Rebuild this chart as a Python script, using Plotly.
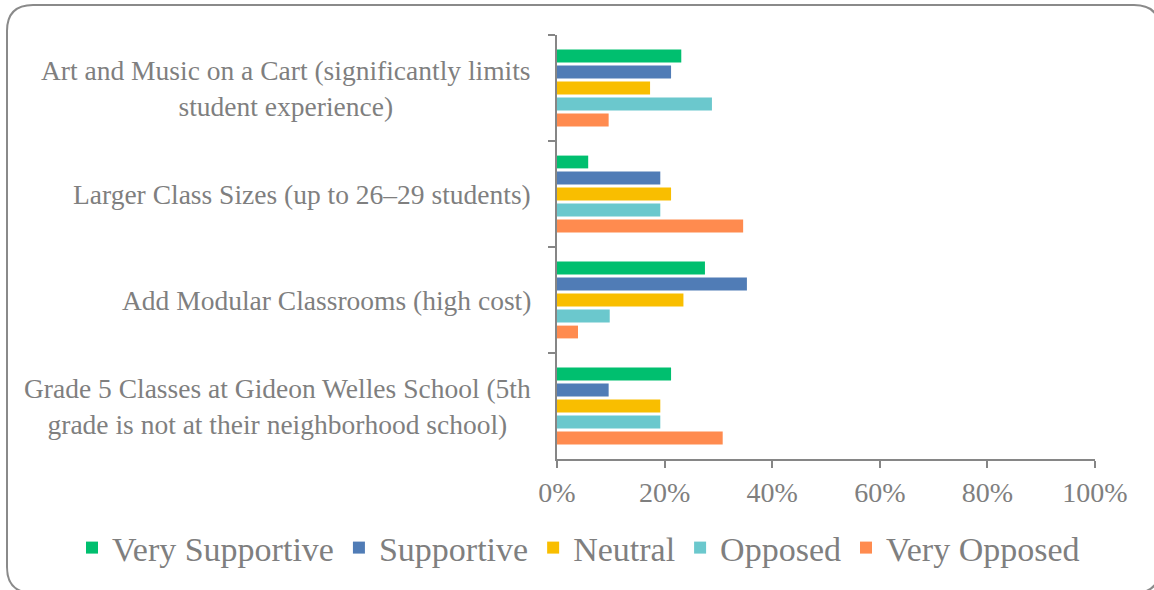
import plotly.graph_objects as go

categories = [
    "Art and Music on a Cart (significantly limits<br>student experience)",
    "Larger Class Sizes (up to 26–29 students)",
    "Add Modular Classrooms (high cost)",
    "Grade 5 Classes at Gideon Welles School (5th<br>grade is not at their neighborhood school)",
]
series_names = ["Very Supportive", "Supportive", "Neutral", "Opposed", "Very Opposed"]
very_supportive = [23.1, 5.8, 27.5, 21.2]
supportive = [21.2, 19.2, 35.3, 9.6]
neutral = [17.3, 21.2, 23.5, 19.2]
opposed = [28.8, 19.2, 9.8, 19.2]
very_opposed = [9.6, 34.6, 3.9, 30.8]
x_ticks = [0, 20, 40, 60, 80, 100]
colors = ["#00BF6F", "#507CB6", "#F9BE00", "#6BC8CD", "#FF8B4F"]

W, H = 1154, 590
L, R, T, B = 557, 59, 35, 131
FONT = "Liberation Serif"
GRAY = "#7f7f7f"
AXIS = "#868686"

fig = go.Figure()
for name, vals, col in zip(series_names,
                           [very_supportive, supportive, neutral, opposed, very_opposed],
                           colors):
    fig.add_trace(go.Bar(y=categories, x=vals, name=name,
                         orientation="h", marker=dict(color=col, line=dict(width=0))))

pw, ph = W - L - R, H - T - B
def px2x(p):
    return (p - L) / pw
def py2y(p):
    return (H - B - p) / ph

# rounded border
x0, x1, y0, y1, r = 7, 1160, 5, 593, 26
rx, ry = r / pw, r / ph
X0, X1, Y0, Y1 = px2x(x0), px2x(x1), py2y(y0), py2y(y1)
path = (f"M {X0+rx},{Y0} L {X1-rx},{Y0} Q {X1},{Y0} {X1},{Y0-ry} "
        f"L {X1},{Y1+ry} Q {X1},{Y1} {X1-rx},{Y1} L {X0+rx},{Y1} "
        f"Q {X0},{Y1} {X0},{Y1+ry} L {X0},{Y0-ry} Q {X0},{Y0} {X0+rx},{Y0} Z")
fig.add_shape(type="path", path=path, xref="paper", yref="paper",
              line=dict(color="#8a8a8a", width=2), layer="below")

for c in categories:
    fig.add_annotation(x=0, y=c, xref="paper", yref="y", text=c, showarrow=False,
                       xanchor="right", align="center", xshift=-24,
                       font=dict(family=FONT, size=27.5, color=GRAY))

fig.update_layout(
    width=W, height=H, margin=dict(l=L, r=R, t=T, b=B, autoexpand=False),
    paper_bgcolor="white", plot_bgcolor="white",
    barmode="group", bargap=0.245, bargroupgap=0.2,
    showlegend=True,
    legend=dict(orientation="h", xref="paper", x=px2x(72), xanchor="left",
                yref="paper", y=py2y(548), yanchor="middle",
                font=dict(family=FONT, size=34, color=GRAY),
                itemwidth=30, traceorder="normal", tracegroupgap=0,
                bgcolor="rgba(0,0,0,0)"),
    xaxis=dict(range=[0, 100], tickvals=x_ticks, ticktext=[f"{v}%" for v in x_ticks],
               showgrid=False, zeroline=False, showline=True, linecolor=AXIS, linewidth=2,
               ticks="outside", ticklen=7, tickwidth=2, tickcolor=AXIS,
               tickfont=dict(family=FONT, size=28, color=GRAY)),
    yaxis=dict(type="category", categoryorder="array", categoryarray=categories,
               range=[len(categories) - 0.5, -0.5], showticklabels=False,
               tickson="boundaries", ticks="outside", ticklen=7, tickwidth=2, tickcolor=AXIS,
               showgrid=False, zeroline=False, showline=True, linecolor=AXIS, linewidth=2),
)
fig.write_html("out.html", config={"displayModeBar": False},
               post_script="document.body.style.margin='0';document.body.style.overflow='hidden';")
